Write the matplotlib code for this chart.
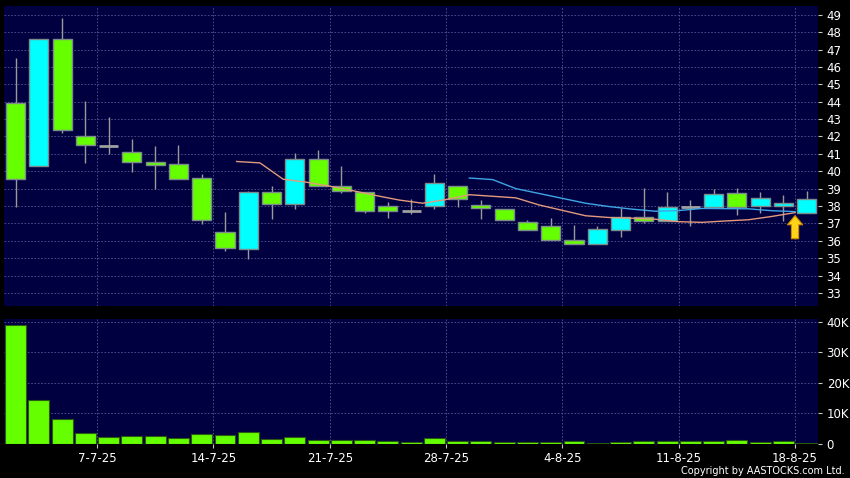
import matplotlib
matplotlib.use('Agg')
import matplotlib.pyplot as plt
from matplotlib.patches import Rectangle
from matplotlib.ticker import FuncFormatter
import numpy as np

# 日付 (HK trading days)
dates = ['30-6-25', '2-7-25', '3-7-25', '4-7-25',
         '7-7-25', '8-7-25', '9-7-25', '10-7-25', '11-7-25',
         '14-7-25', '15-7-25', '16-7-25', '17-7-25', '18-7-25',
         '21-7-25', '22-7-25', '23-7-25', '24-7-25', '25-7-25',
         '28-7-25', '29-7-25', '30-7-25', '31-7-25', '1-8-25',
         '4-8-25', '5-8-25', '6-8-25', '7-8-25', '8-8-25',
         '11-8-25', '12-8-25', '13-8-25', '14-8-25', '15-8-25',
         '18-8-25']

opens  = [43.90, 40.30, 47.58, 42.03, 41.47, 41.09, 40.51, 40.40, 39.59, 36.49,
          35.53, 38.79, 38.12, 40.69, 39.15, 38.83, 37.98, 37.74, 38.00, 39.13,
          38.04, 37.85, 37.07, 36.84, 36.03, 35.80, 36.62, 37.39, 37.16, 37.97,
          37.97, 38.77, 37.98, 37.98, 37.58]
highs  = [46.49, 47.58, 48.79, 44.04, 43.12, 41.85, 41.45, 41.51, 39.84, 37.66,
          38.89, 39.15, 41.03, 41.22, 40.32, 38.83, 38.25, 38.39, 39.86, 39.13,
          38.35, 37.85, 37.22, 37.31, 36.91, 36.85, 37.87, 39.02, 38.81, 38.35,
          38.98, 39.02, 38.83, 38.64, 38.89]
lows   = [37.97, 40.30, 42.22, 40.49, 41.01, 39.98, 39.00, 39.54, 36.99, 35.44,
          34.98, 37.28, 37.81, 39.15, 38.73, 37.58, 37.30, 37.52, 37.81, 37.97,
          37.28, 37.18, 36.61, 36.03, 35.80, 35.80, 36.24, 37.01, 37.16, 36.87,
          37.97, 37.47, 37.62, 37.16, 37.58]
closes = [39.54, 47.58, 42.35, 41.49, 41.47, 40.51, 40.34, 39.54, 37.18, 35.57,
          38.79, 38.12, 40.69, 39.15, 38.87, 37.72, 37.72, 37.74, 39.33, 38.41,
          37.87, 37.18, 36.61, 36.03, 35.80, 36.66, 37.39, 37.14, 37.93, 37.97,
          38.67, 37.93, 38.48, 38.18, 38.43]
volumes = [39000, 14400, 8100, 3500, 2300, 2500, 2600, 1750, 3200, 2700,
           3700, 1500, 2300, 1200, 1300, 1100, 900, 500, 1850, 800,
           900, 650, 550, 550, 900, 300, 550, 1000, 900, 900,
           900, 1200, 650, 1000, 100]

# 移動平均, start at day 9 / day 19
ma10 = [40.56, 40.48, 39.54, 39.37, 39.14, 38.88, 38.60, 38.34, 38.16, 38.37,
        38.65, 38.56, 38.47, 38.06, 37.75, 37.44, 37.34, 37.30, 37.24, 37.10,
        37.06, 37.14, 37.21, 37.40, 37.62]
ma20 = [39.61, 39.52, 39.00, 38.72, 38.44, 38.16, 37.97, 37.82, 37.70, 37.74,
        37.86, 37.85, 37.84, 37.73, 37.68]
ma10_start, ma20_start = 9, 19

price_ticks = list(range(33, 50))
vol_ticks = [0, 10000, 20000, 30000, 40000]

BG = '#000040'
GRID = '#55558f'
UP = '#00ffff'
DOWN = '#66ff00'
DOJI = '#a0a0a0'
EDGE = '#7c8c8c'

plt.rcParams['font.family'] = ['DejaVu Sans']

fig = plt.figure(figsize=(8.5, 4.78), dpi=100, facecolor='black')
ax = fig.add_axes([0.0047, 0.3598, 0.958, 0.6276], facecolor=BG)
axv = fig.add_axes([0.0047, 0.0718, 0.958, 0.2608], facecolor=BG)

n = len(dates)
idx = np.arange(n)
mondays = [4, 9, 14, 19, 24, 29, 34]
tick_pos = [i - 0.5 for i in mondays]
tick_lab = [dates[i] for i in mondays]

#--- candles ---#
w = 0.82
for i in idx:
    o, h, l, c = opens[i], highs[i], lows[i], closes[i]
    ax.vlines(i, l, h, color='#9a9a9a', lw=1, zorder=2)
    if c > o:
        col = UP
    elif c < o:
        col = DOWN
    else:
        col = DOJI
    lo, hi = min(o, c), max(o, c)
    if hi - lo < 0.02:
        ax.hlines(o, i - w / 2, i + w / 2, color=DOJI, lw=2, zorder=3)
    else:
        ax.add_patch(Rectangle((i - w / 2, lo), w, hi - lo, facecolor=col,
                               edgecolor=EDGE, lw=1, zorder=3))

ax.plot(np.arange(ma10_start, ma10_start + len(ma10)) + 0.5, ma10,
        color='#e39a7c', lw=1, zorder=4)
ax.plot(np.arange(ma20_start, ma20_start + len(ma20)) + 0.5, ma20,
        color='#3fa6e6', lw=1, zorder=4)

# 矢印
ax.annotate('', xy=(33.5, 37.45), xytext=(33.5, 36.12),
            arrowprops=dict(arrowstyle='simple,head_length=0.33,head_width=0.55,tail_width=0.26',
                            mutation_scale=20, fc='#ffd21a', ec='#d08a00', lw=0.8,
                            shrinkA=0, shrinkB=0), zorder=5)

ax.set_xlim(-0.5, n - 0.5)
ax.set_ylim(32.25, 49.5)
ax.set_yticks(price_ticks)
ax.set_xticks(tick_pos)
ax.yaxis.tick_right()
ax.tick_params(axis='y', colors='#c8c8c8', labelcolor='white', length=3, pad=3, labelsize=8.5)
ax.tick_params(axis='x', length=0, labelbottom=False)

#--- volume ---#
axv.bar(idx, volumes, width=0.9, color=DOWN, edgecolor='#2a5a10', lw=0.8, zorder=3)
axv.set_xlim(-0.5, n - 0.5)
axv.set_ylim(0, 41000)
axv.set_yticks(vol_ticks)
axv.yaxis.set_major_formatter(FuncFormatter(lambda v, p: '0' if v == 0 else '%dK' % (v / 1000)))
axv.yaxis.tick_right()
axv.set_xticks(tick_pos)
axv.set_xticklabels(tick_lab)
axv.tick_params(axis='y', colors='#c8c8c8', labelcolor='white', length=3, pad=3, labelsize=8.5)
axv.tick_params(axis='x', colors='#c8c8c8', labelcolor='white', length=3, pad=3, labelsize=8.5)

for a in (ax, axv):
    a.grid(True, color=GRID, lw=0.6, linestyle=(0, (2, 2)), zorder=0)
    for s in a.spines.values():
        s.set_visible(False)

fig.text(0.994, 0.004, 'Copyright by AASTOCKS.com Ltd.', color='white',
         fontsize=7, ha='right', va='bottom')

fig.savefig('out.png', dpi=100, facecolor='black')
